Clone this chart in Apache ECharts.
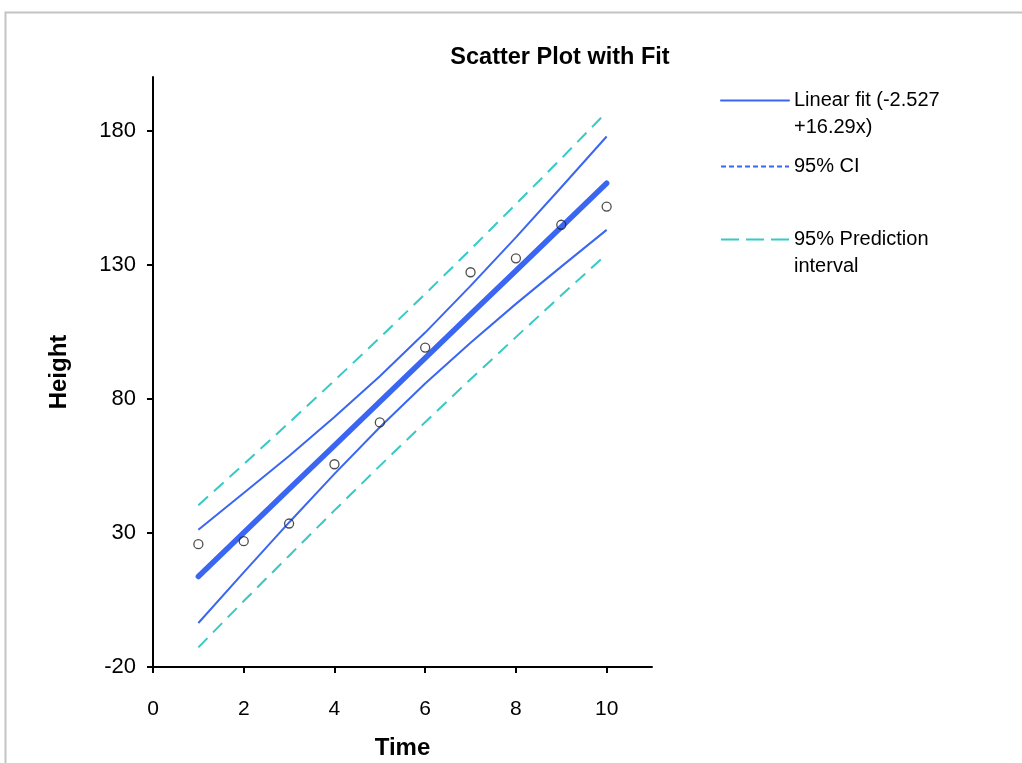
<!DOCTYPE html>
<html>
<head>
<meta charset="utf-8">
<script src="https://cdn.jsdelivr.net/npm/echarts@6/dist/echarts.min.js"></script>
<style>
  html, body { margin: 0; padding: 0; background: #fff; }
  #chartBox { width: 1022px; height: 763px; }
</style>
</head>
<body>
<div id="chartBox"></div>
<script>
// data
var timeValues = [1, 2, 3, 4, 5, 6, 7, 8, 9, 10];
var heightValues = [25.8, 26.9, 33.5, 55.6, 71.2, 99.1, 127.2, 132.4, 144.9, 151.7];
var fitValues = [13.76, 30.05, 46.34, 62.63, 78.92, 95.21, 111.5, 127.79, 144.08, 160.37];
var ciUpper = [31.2, 44.9, 58.7, 73.2, 88.4, 104.7, 122.1, 140.2, 158.9, 177.8];
var ciLower = [-3.6, 15.3, 33.9, 52.0, 69.4, 85.7, 100.9, 115.4, 129.3, 143.0];
var piUpper = [40.3, 55.6, 71.1, 86.8, 102.8, 119.1, 135.7, 152.6, 169.6, 186.9];
var piLower = [-12.7, 4.6, 21.5, 38.4, 55.0, 71.3, 87.3, 103.0, 118.6, 133.9];
var xTicks = [0, 2, 4, 6, 8, 10];
var yTicks = [-20, 30, 80, 130, 180];

var fitName = 'Linear fit (-2.527\n+16.29x)';
var ciName = '95% CI';
var piName = '95% Prediction\ninterval';

var blue = '#3a66f2';
var cyan = '#36c9c6';
var font = '"Liberation Sans", Arial, sans-serif';

function pairs(ys) {
  return timeValues.map(function (x, i) { return [x, ys[i]]; });
}

// two-line names get a blank line on top so the key line sits by the first line
function legendAt(top, name, lineStyle, twoLines) {
  return {
    left: 715,
    top: top,
    orient: 'vertical',
    itemWidth: 68,
    itemHeight: 14,
    selectedMode: false,
    formatter: function (n) { return twoLines ? '\u00a0\n' + n : n; },
    textStyle: { fontFamily: font, fontSize: 20, color: '#000', lineHeight: 27 },
    data: [{ name: name, lineStyle: lineStyle, itemStyle: { opacity: 0 } }]
  };
}

var chart = echarts.init(document.getElementById('chartBox'));
chart.setOption({
  animation: false,
  backgroundColor: '#fff',
  title: {
    text: 'Scatter Plot with Fit',
    left: 555,
    top: 41,
    textAlign: 'center',
    textStyle: { fontFamily: font, fontSize: 23.5, fontWeight: 'bold', color: '#000' }
  },
  graphic: [{
    type: 'rect',
    shape: { x: 5.5, y: 12.5, width: 1200, height: 900 },
    style: { fill: 'none', stroke: '#c4c4c4', lineWidth: 2 },
    silent: true,
    z: -10
  }],
  legend: [
    legendAt(55, fitName, { color: blue, width: 2, type: 'solid' }, true),
    legendAt(148, ciName, { color: blue, width: 2, type: [5, 3] }, false),
    legendAt(194, piName, { color: cyan, width: 2, type: [18, 7] }, true)
  ],
  grid: { left: 153, right: 370, top: 77, bottom: 96, outerBoundsMode: 'none', containLabel: false },
  xAxis: {
    type: 'value',
    min: 0,
    max: 11,
    interval: 2,
    name: 'Time',
    nameLocation: 'middle',
    nameGap: 69,
    nameTextStyle: { fontFamily: font, fontSize: 24, fontWeight: 'bold', color: '#000' },
    axisLine: { onZero: false, lineStyle: { color: '#000', width: 2 } },
    axisTick: { length: 6, lineStyle: { color: '#000', width: 2 }, customValues: xTicks },
    axisLabel: { fontFamily: font, fontSize: 21, color: '#000', margin: 32, customValues: xTicks },
    splitLine: { show: false }
  },
  yAxis: {
    type: 'value',
    min: -20,
    max: 200,
    interval: 50,
    name: 'Height',
    nameLocation: 'middle',
    nameGap: 82,
    nameTextStyle: { fontFamily: font, fontSize: 24, fontWeight: 'bold', color: '#000' },
    axisLine: { onZero: false, lineStyle: { color: '#000', width: 2 } },
    axisTick: { length: 6, lineStyle: { color: '#000', width: 2 }, customValues: yTicks },
    axisLabel: { fontFamily: font, fontSize: 22, color: '#000', margin: 17, customValues: yTicks },
    splitLine: { show: false }
  },
  series: [
    {
      name: piName, type: 'line', data: pairs(piUpper), symbol: 'none', silent: true,
      lineStyle: { color: cyan, width: 2, type: [13, 8] }, itemStyle: { color: cyan }
    },
    {
      name: piName, type: 'line', data: pairs(piLower), symbol: 'none', silent: true,
      lineStyle: { color: cyan, width: 2, type: [13, 8] }, itemStyle: { color: cyan }
    },
    {
      name: ciName, type: 'line', data: pairs(ciUpper), symbol: 'none', silent: true,
      lineStyle: { color: blue, width: 2 }, itemStyle: { color: blue }
    },
    {
      name: ciName, type: 'line', data: pairs(ciLower), symbol: 'none', silent: true,
      lineStyle: { color: blue, width: 2 }, itemStyle: { color: blue }
    },
    {
      name: fitName, type: 'line', data: pairs(fitValues), symbol: 'none', silent: true,
      lineStyle: { color: blue, width: 5.5, cap: 'round' }, itemStyle: { color: blue }
    },
    {
      name: 'Observed', type: 'scatter', data: pairs(heightValues), symbol: 'circle', symbolSize: 9,
      itemStyle: { color: 'rgba(255,255,255,0)', borderColor: '#222', borderWidth: 1.3 },
      z: 5
    }
  ]
});
</script>
</body>
</html>
